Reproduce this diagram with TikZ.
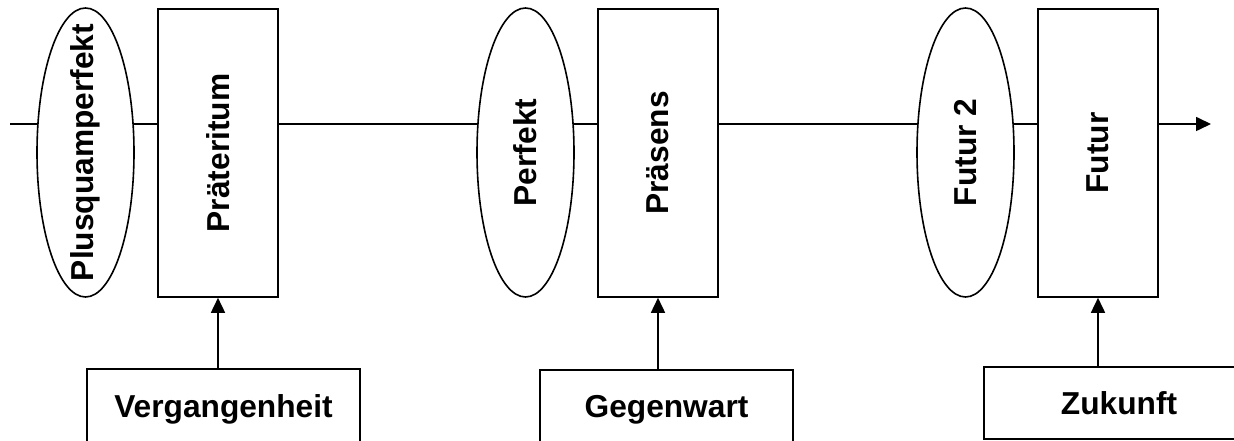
\documentclass[tikz,border=0pt]{standalone}
\usepackage{fontspec}
\setmainfont{Liberation Sans}
\usetikzlibrary{shapes.geometric,arrows.meta}
\begin{document}
\begin{tikzpicture}[x=1pt,y=1pt,
  every node/.style={line width=1.6pt},
  lbl/.style={font=\fontsize{31.7}{36}\selectfont\bfseries, inner sep=0pt},
  tense/.style={draw, fill=white, ellipse, inner sep=0pt, minimum width=97pt, minimum height=289pt},
  tbox/.style={draw, fill=white, rectangle, inner sep=0pt, minimum width=120pt, minimum height=288pt},
  era/.style={draw, fill=white, rectangle, inner sep=0pt, font=\fontsize{31.7}{36}\selectfont\bfseries},
  arr/.style={line width=1.6pt, -{Triangle[length=15pt,width=14pt]}}
]
\useasboundingbox (0,0) rectangle (1234,441);
\begin{scope}
\clip (0,0) rectangle (1234,441);
% timeline
\coordinate (start) at (10,317);
\coordinate (end) at (1211,317);
\draw[arr] (start) -- (end);
% tense shapes
\node[tense] (e1) at (85.5,288.5) {};
\node[tbox]  (r1) at (218,288) {};
\node[tense] (e2) at (525.5,288.5) {};
\node[tbox]  (r2) at (658,288) {};
\node[tense] (e3) at (965.5,288.5) {};
\node[tbox]  (r3) at (1098,288) {};
\node[lbl, rotate=90] (t1) at (e1) {Plusquamperfekt};
\node[lbl, rotate=90] (t2) at (r1) {Präteritum};
\node[lbl, rotate=90] (t3) at (e2) {Perfekt};
\node[lbl, rotate=90] (t4) at (r2) {Präsens};
\node[lbl, rotate=90] (t5) at (e3) {Futur 2};
\node[lbl, rotate=90] (t6) at (r3) {Futur};
% era boxes
\node[era, minimum width=273pt, minimum height=80pt] (b1) at (223.5,32) {Vergangenheit};
\node[era, minimum width=253pt, minimum height=80pt] (b2) at (666.5,31) {Gegenwart};
\node[era, minimum width=270pt, minimum height=72pt] (b3) at (1119,38) {Zukunft};
% arrows
\draw[arr] (b1.north -| r1) -- (r1.south);
\draw[arr] (b2.north -| r2) -- (r2.south);
\draw[arr] (b3.north -| r3) -- (r3.south);
\end{scope}
\end{tikzpicture}
\end{document}
